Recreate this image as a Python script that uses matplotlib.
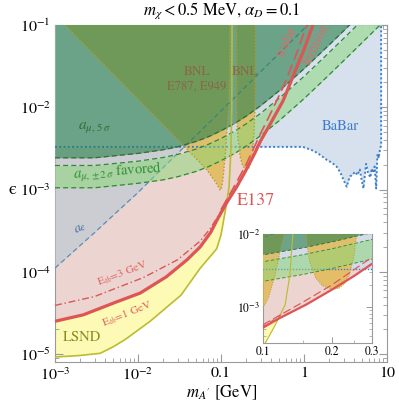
import matplotlib
matplotlib.use("Agg")
import matplotlib.pyplot as plt
from matplotlib.ticker import FixedLocator, FixedFormatter, LogLocator, NullFormatter

plt.rcParams['font.family'] = ['STIXGeneral', 'DejaVu Serif']
plt.rcParams['mathtext.fontset'] = 'stix'

# ---------------- data ----------------
# muon g-2 curves
amu_m = [1e-3, 3e-3, 0.01, 0.02, 0.03, 0.05, 0.07, 0.1, 0.15, 0.2, 0.3, 0.5, 1.0, 2.0, 3.0, 5.0, 10.0]
amu5_eps = [2.43e-3, 2.43e-3, 2.75e-3, 3.04e-3, 3.30e-3, 3.84e-3, 4.37e-3, 5.18e-3, 6.46e-3,
            7.78e-3, 1.045e-2, 1.58e-2, 2.94e-2, 5.71e-2, 8.5e-2, 0.141, 0.28]
fav_hi_eps = [1.96e-3, 1.96e-3, 2.21e-3, 2.45e-3, 2.67e-3, 3.10e-3, 3.53e-3, 4.17e-3, 5.21e-3,
              6.27e-3, 8.43e-3, 1.28e-2, 2.37e-2, 4.61e-2, 6.86e-2, 0.114, 0.225]
fav_lo_eps = [1.05e-3, 1.05e-3, 1.19e-3, 1.31e-3, 1.43e-3, 1.66e-3, 1.89e-3, 2.24e-3, 2.79e-3,
              3.36e-3, 4.52e-3, 6.84e-3, 1.27e-2, 2.47e-2, 3.68e-2, 6.09e-2, 0.121]

# electron g-2
ae_m = [1e-3, 3e-3, 0.01, 0.03, 0.1, 0.3, 1.0, 1.3]
ae_eps = [1.11e-4, 3.0e-4, 9.2e-4, 2.75e-3, 9.0e-3, 2.7e-2, 9.0e-2, 0.117]

# BaBar
babar_m = [1e-3, 0.3, 0.97, 1.31, 1.6, 1.87, 2.2, 2.47, 2.75, 3.0, 3.27, 3.45, 3.6, 3.85, 4.1,
           4.4, 4.7, 4.95, 5.2, 5.45, 5.6, 5.9, 6.3, 6.55, 6.8, 7.1, 7.4, 7.6, 7.7, 7.95, 8.2,
           8.5, 8.5]
babar_eps = [3.3e-3, 3.3e-3, 3.3e-3, 2.95e-3, 2.6e-3, 2.3e-3, 2.1e-3, 1.9e-3, 1.6e-3, 1.3e-3,
             1.08e-3, 1.3e-3, 1.45e-3, 1.5e-3, 1.65e-3, 1.5e-3, 1.75e-3, 1.3e-3, 1.03e-3,
             1.6e-3, 2.05e-3, 1.6e-3, 1.4e-3, 1.8e-3, 1.6e-3, 1.9e-3, 1.03e-3, 2.2e-3, 2.7e-3,
             2.4e-3, 3.0e-3, 3.5e-3, 0.1]

# BNL E787/E949 (two regions)
bnl1_m = [1.32e-3, 0.0368, 0.067, 0.085, 0.093, 0.098, 0.102, 0.1055, 0.1128, 0.1186, 0.124,
          0.127, 0.128]
bnl1_eps = [0.1, 3.3e-3, 1.75e-3, 1.25e-3, 1.08e-3, 9.8e-4, 1.08e-3, 1.32e-3, 2.7e-3, 5.7e-3,
            1.0e-2, 2.5e-2, 0.1]
bnl2_m = [0.154, 0.154, 0.156, 0.16, 0.17, 0.182, 0.2, 0.215, 0.228, 0.24, 0.25, 0.257, 0.26, 0.26]
bnl2_eps = [0.1, 1.5e-2, 7e-3, 4.2e-3, 2.5e-3, 1.95e-3, 1.75e-3, 1.8e-3, 2.1e-3, 2.9e-3, 5e-3,
            1e-2, 2.5e-2, 0.1]

# LSND
lsnd_m = [1e-3, 2e-3, 3.5e-3, 5e-3, 7e-3, 0.014, 0.033, 0.056, 0.0887, 0.1, 0.113, 0.125,
          0.131, 0.135, 0.136]
lsnd_eps = [9.2e-6, 9.6e-6, 1.02e-5, 1.22e-5, 1.5e-5, 2.5e-5, 5.2e-5, 1.1e-4, 1.9e-4, 2.8e-4,
            5.6e-4, 1.07e-3, 2.7e-3, 9.7e-3, 0.1]

# E137 fermion, E_th = 1 GeV
e137_m = [1e-3, 2.2e-3, 5.5e-3, 0.0106, 0.022, 0.039, 0.056, 0.075, 0.089, 0.1, 0.117, 0.154,
          0.2, 0.25, 0.3, 0.4, 0.56, 0.8, 1.0, 1.28]
e137_eps = [2.5e-5, 3.0e-5, 4.3e-5, 5.5e-5, 8.7e-5, 1.4e-4, 2.0e-4, 3.0e-4, 4.2e-4, 5.2e-4,
            6.9e-4, 1.07e-3, 1.72e-3, 2.65e-3, 3.9e-3, 6.5e-3, 1.2e-2, 2.9e-2, 5.0e-2, 0.1]
# E137, E_th = 3 GeV
eth3_m = [1e-3, 3e-3, 0.0116, 0.03, 0.0558, 0.075, 0.09, 0.105, 0.12]
eth3_eps = [3.9e-5, 5.0e-5, 8.5e-5, 1.4e-4, 2.35e-4, 3.4e-4, 4.6e-4, 5.9e-4, 7.8e-4]
# E137 scalar
scal_m = [0.1, 0.15, 0.2, 0.3, 0.4, 0.56, 0.8, 1.08]
scal_eps = [5.7e-4, 1.17e-3, 2.0e-3, 4.8e-3, 8.6e-3, 1.75e-2, 4.3e-2, 0.1]

xtick_vals = [1e-3, 1e-2, 0.1, 1, 10]
xtick_labels = [r'$10^{-3}$', r'$10^{-2}$', '0.1', '1', '10']
ytick_vals = [1e-5, 1e-4, 1e-3, 1e-2, 1e-1]
ytick_labels = [r'$10^{-5}$', r'$10^{-4}$', r'$10^{-3}$', r'$10^{-2}$', r'$10^{-1}$']
in_xtick_vals = [0.1, 0.2, 0.3]
in_xtick_labels = ['0.1', '0.2', '0.3']
in_ytick_vals = [1e-3, 1e-2]
in_ytick_labels = [r'$10^{-3}$', r'$10^{-2}$']

# ---------------- styles ----------------
C_LSND = '#fcfab4'
C_PINK = '#ecd5d0'
C_GREY = '#cccdd3'
C_BABAR = '#d0dcea'
C_BNL = '#e1b43c'
C_G5 = '#28804b'
C_GF = '#88d775'
RED = '#dd5555'
FRAME = '#9a9a9a'


def draw_layers(a, small=False):
    s = 0.7 if small else 1.0
    a.fill_between(lsnd_m, lsnd_eps, 1.0, color=C_LSND, lw=0, zorder=1)
    a.fill_between(e137_m, e137_eps, 1.0, color=C_PINK, lw=0, zorder=2)
    a.fill_between(ae_m, ae_eps, 1.0, color=C_GREY, lw=0, zorder=3)
    a.fill_between(babar_m, babar_eps, 1.0, color=C_BABAR, alpha=0.85, lw=0, zorder=3.5)
    a.fill(bnl1_m, bnl1_eps, color=C_BNL, alpha=0.7, lw=0, zorder=4)
    a.fill(bnl2_m, bnl2_eps, color=C_BNL, alpha=0.7, lw=0, zorder=4)
    # lines lying under the g-2 bands
    a.plot(ae_m, ae_eps, color='#5b8db8', lw=0.9 * s, ls=(0, (4, 2.5)), zorder=4.5)
    a.plot(babar_m, babar_eps, color='#3a7fcc', lw=1.4 * s, ls=(0, (1, 1.2)), zorder=4.5)

    a.fill_between(amu_m, amu5_eps, 1.0, color=C_G5, alpha=0.6, lw=0, zorder=5)
    a.fill_between(amu_m, fav_lo_eps, fav_hi_eps, color=C_GF, alpha=0.5, lw=0, zorder=5)

    a.plot(amu_m, amu5_eps, color='#2e6e35', lw=0.9 * s, ls=(0, (4, 2.5)), zorder=6)
    a.plot(amu_m, fav_hi_eps, color='#2f8a2f', lw=0.9 * s, ls=(0, (4, 2.5)), zorder=6)
    a.plot(amu_m, fav_lo_eps, color='#2f8a2f', lw=0.9 * s, ls=(0, (4, 2.5)), zorder=6)
    a.plot(bnl1_m, bnl1_eps, color='#b49a28', lw=1.0 * s, ls=(0, (1, 1.5)), zorder=6)
    a.plot(bnl2_m, bnl2_eps, color='#b49a28', lw=1.0 * s, ls=(0, (1, 1.5)), zorder=6)
    a.plot(lsnd_m, lsnd_eps, color='#bcbc30', lw=1.2 * s, zorder=7)
    a.plot(eth3_m, eth3_eps, color=RED, lw=1.0 * s, ls=(0, (5, 2, 1, 2)), zorder=8)
    a.plot(scal_m, scal_eps, color=RED, lw=1.2 * s, ls=(0, (7, 3)), zorder=8)
    a.plot(e137_m, e137_eps, color=RED, lw=2.3 * s, solid_capstyle='butt', zorder=9)


fig = plt.figure(figsize=(3.99, 4.05), dpi=100)
ax = fig.add_axes([55 / 399, 1 - 362 / 405, 332 / 399, 337 / 405])
draw_layers(ax)
ax.set_xscale('log')
ax.set_yscale('log')
ax.set_xlim(1e-3, 10)
ax.set_ylim(8e-6, 0.1)
ax.xaxis.set_major_locator(FixedLocator(xtick_vals))
ax.xaxis.set_major_formatter(FixedFormatter(xtick_labels))
ax.yaxis.set_major_locator(FixedLocator(ytick_vals))
ax.yaxis.set_major_formatter(FixedFormatter(ytick_labels))
ax.xaxis.set_minor_locator(LogLocator(base=10, subs=range(2, 10), numticks=20))
ax.yaxis.set_minor_locator(LogLocator(base=10, subs=range(2, 10), numticks=20))
ax.xaxis.set_minor_formatter(NullFormatter())
ax.yaxis.set_minor_formatter(NullFormatter())
ax.tick_params(which='both', direction='in', top=True, right=True, color=FRAME)
ax.tick_params(which='major', length=6, width=0.8, labelsize=11.5)
ax.tick_params(axis='x', which='major', pad=3)
ax.tick_params(axis='y', which='major', pad=3)
ax.tick_params(which='minor', length=3, width=0.6)
for sp in ax.spines.values():
    sp.set_color(FRAME)
    sp.set_linewidth(0.8)

# labels in main panel
ax.text(0.0514, 0.0268, 'BNL', color='#8c6448', fontsize=9.5, ha='center', va='center', zorder=10)
ax.text(0.0514, 0.0181, 'E787, E949', color='#8c6448', fontsize=9, ha='center', va='center', zorder=10)
ax.text(0.196, 0.0268, 'BNL', color='#8c6448', fontsize=9.5, ha='center', va='center', zorder=10)
ax.text(3.03e-3, 5.75e-3, r'$a_{\mu,\,5\,\sigma}$', color='#2e6e35', fontsize=11,
        ha='center', va='center', zorder=10)
ax.text(5.74e-3, 1.63e-3, r'$a_{\mu,\pm2\,\sigma}$ favored', color='#2f8f2f', fontsize=10.5,
        ha='center', va='center', rotation=4, zorder=10)
ax.text(2.0e-3, 3.4e-4, r'$a_e$', color='#4a6fa0', fontsize=10, ha='center', va='center',
        rotation=30, zorder=10)
ax.text(2.72, 5.8e-3, 'BaBar', color='#3a7cc8', fontsize=10.5, ha='center', va='center', zorder=10)
ax.text(0.264, 7.24e-4, 'E137', color=RED, fontsize=13, ha='center', va='center', zorder=10)
ax.text(0.607, 0.0621, 'scalar', color='#e06a6a', fontsize=10, ha='center', va='center',
        rotation=64, zorder=10)
ax.text(1.40, 0.0571, 'fermion', color='#e06a6a', fontsize=10, ha='center', va='center',
        rotation=64, zorder=10)
ax.text(6.6e-3, 9.6e-5, r'E$_{th}$=3 GeV', color='#e06060', fontsize=8.2, ha='center',
        va='center', rotation=21, zorder=10)
ax.text(7.4e-3, 3.05e-5, r'E$_{th}$=1 GeV', color='#e06060', fontsize=8.2, ha='center',
        va='center', rotation=22, zorder=10)
ax.text(2.1e-3, 1.6e-5, 'LSND', color='#8a8a22', fontsize=10.5, ha='center', va='center', zorder=10)

fig.text(222 / 399, 1 - 11 / 405, r'$m_\chi < 0.5$ MeV, $\alpha_D = 0.1$', fontsize=12,
         ha='center', va='center')
fig.text(222 / 399, 1 - 393 / 405, r"$m_{A'}$ [GeV]", fontsize=12, ha='center', va='center')
fig.text(12 / 399, 1 - 190 / 405, '\u03f5', fontsize=13, ha='center', va='center')

# inset
axin = fig.add_axes([263 / 399, 1 - 343 / 405, 109 / 399, 109 / 405])
axin.set_facecolor('white')
draw_layers(axin, small=True)
axin.set_xscale('log')
axin.set_yscale('log')
axin.set_xlim(0.1, 0.3)
axin.set_ylim(3.2e-4, 1e-2)
axin.xaxis.set_major_locator(FixedLocator(in_xtick_vals))
axin.xaxis.set_major_formatter(FixedFormatter(in_xtick_labels))
axin.xaxis.set_minor_locator(FixedLocator([0.15, 0.25]))
axin.xaxis.set_minor_formatter(NullFormatter())
axin.yaxis.set_major_locator(FixedLocator(in_ytick_vals))
axin.yaxis.set_major_formatter(FixedFormatter(in_ytick_labels))
axin.yaxis.set_minor_locator(LogLocator(base=10, subs=range(2, 10), numticks=20))
axin.yaxis.set_minor_formatter(NullFormatter())
axin.tick_params(which='both', direction='in', top=True, right=True, color=FRAME)
axin.tick_params(which='major', length=4, width=0.7, labelsize=8.5, pad=2)
axin.tick_params(which='minor', length=2, width=0.5)
for sp in axin.spines.values():
    sp.set_color(FRAME)
    sp.set_linewidth(0.8)

fig.savefig('out.png', dpi=100)
